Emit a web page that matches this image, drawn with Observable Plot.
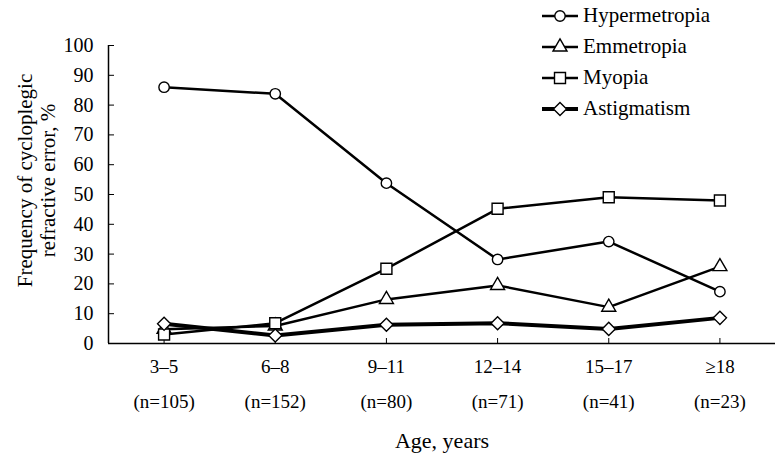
<!DOCTYPE html>
<html>
<head>
<meta charset="utf-8">
<script src="https://cdn.jsdelivr.net/npm/d3@7"></script>
<script src="https://cdn.jsdelivr.net/npm/@observablehq/plot@0.6"></script>
<style>
  body { margin: 0; background: #fff; }
  #wrap { position: relative; width: 780px; height: 461px; font-family: 'Liberation Serif', 'DejaVu Serif', serif; }
  #wrap svg text { font-family: 'Liberation Serif', 'DejaVu Serif', serif; }
  #legend { position: absolute; left: 541px; top: 0px; }
  .row { display: flex; align-items: center; height: 31px; font-size: 21px; color: #000; font-family: 'Liberation Serif', 'DejaVu Serif', serif; }
  .row svg { margin-right: 4px; }
</style>
</head>
<body>
<div id="wrap"><div id="legend"></div></div>
<script>
const categories = ["3–5", "6–8", "9–11", "12–14", "15–17", "≥18"];
const sampleSizes = ["(n=105)", "(n=152)", "(n=80)", "(n=71)", "(n=41)", "(n=23)"];
const hypermetropia = [86.0, 83.8, 53.8, 28.2, 34.2, 17.4];
const emmetropia = [4.8, 5.9, 14.8, 19.5, 12.2, 25.8];
const myopia = [3.0, 6.8, 25.1, 45.2, 49.1, 48.0];
const astigmatism = [6.6, 2.7, 6.3, 6.8, 4.9, 8.6];
const yTicks = [0, 10, 20, 30, 40, 50, 60, 70, 80, 90, 100];

const seriesNames = ["Hypermetropia", "Emmetropia", "Myopia", "Astigmatism"];
const seriesValues = [hypermetropia, emmetropia, myopia, astigmatism];
const symbols = ["circle", "triangle", "square", "diamond2"];
const radii = [5.2, 5.2, 6.2, 5.9];
const widths = [2.5, 2.5, 2.5, 4];

const idx = categories.map((_, i) => i);
const W = 780, H = 461, ML = 108, MR = 5, MT = 45, MB = 118;
const plotW = W - ML - MR, plotH = H - MT - MB;
const FONT = "'Liberation Serif', 'DejaVu Serif', serif";

const marks = [];
seriesValues.forEach((vals, s) => {
  marks.push(Plot.line(idx, {x: i => i, y: i => vals[i], stroke: "#000", strokeWidth: widths[s], strokeLinejoin: "round"}));
});
seriesValues.forEach((vals, s) => {
  marks.push(Plot.dot(idx, {x: i => i, y: i => vals[i], symbol: () => symbols[s], r: radii[s], fill: "#fff", stroke: "#000", strokeWidth: 1.4}));
});

const chart = Plot.plot({
  width: W, height: H,
  marginLeft: ML, marginRight: MR, marginTop: MT, marginBottom: MB,
  style: {fontFamily: FONT, fontSize: "20px", color: "#000", background: "#fff"},
  x: {type: "linear", domain: [-0.5, categories.length - 0.5]},
  y: {domain: [0, 100]},
  symbol: {type: "identity"},
  marks: [
    Plot.axisY(yTicks, {tickSize: 0, tickPadding: 15, label: null, fontSize: 20, fill: "#000"}),
    Plot.axisX(idx, {tickSize: 0, tickPadding: 16, label: null, tickFormat: i => categories[i], fontSize: 19, fill: "#000"}),
    Plot.text(idx, {x: i => i, frameAnchor: "bottom", dy: 64, text: i => sampleSizes[i], fontSize: 19, fill: "#000"}),
    Plot.text(["Age, years"], {frameAnchor: "bottom", dy: 104, text: d => d, fontSize: 22, fill: "#000"}),
    Plot.text(["Frequency of cycloplegic\nrefractive error, %"], {frameAnchor: "left", textAnchor: "middle", dx: -72, dy: -14, rotate: -90, text: d => d, fontSize: 21, lineHeight: 1.1, fill: "#000"}),
    Plot.ruleY(yTicks, {y: d => d, insetRight: plotW - 6, stroke: "#000", strokeWidth: 1}),
    Plot.ruleX(idx, {x: i => i, insetTop: plotH - 5, stroke: "#000", strokeWidth: 1}),
    Plot.ruleY([0], {stroke: "#000", strokeWidth: 1.5}),
    Plot.ruleX([-0.5], {stroke: "#000", strokeWidth: 1.5}),
    ...marks
  ]
});
document.getElementById("wrap").prepend(chart);

const legend = document.getElementById("legend");
const symMap = {circle: d3.symbolCircle, triangle: d3.symbolTriangle, square: d3.symbolSquare, diamond2: d3.symbolDiamond2};
seriesNames.forEach((name, s) => {
  const row = document.createElement("div");
  row.className = "row";
  const svg = d3.create("svg").attr("width", 38).attr("height", 20);
  svg.append("line").attr("x1", 1).attr("x2", 37).attr("y1", 10).attr("y2", 10).attr("stroke", "#000").attr("stroke-width", widths[s]);
  svg.append("path").attr("transform", "translate(19,10)")
    .attr("d", d3.symbol(symMap[symbols[s]], Math.PI * radii[s] * radii[s])())
    .attr("fill", "#fff").attr("stroke", "#000").attr("stroke-width", 1.4);
  row.appendChild(svg.node());
  const t = document.createElement("span");
  t.textContent = name;
  row.appendChild(t);
  legend.appendChild(row);
});
</script>
</body>
</html>
